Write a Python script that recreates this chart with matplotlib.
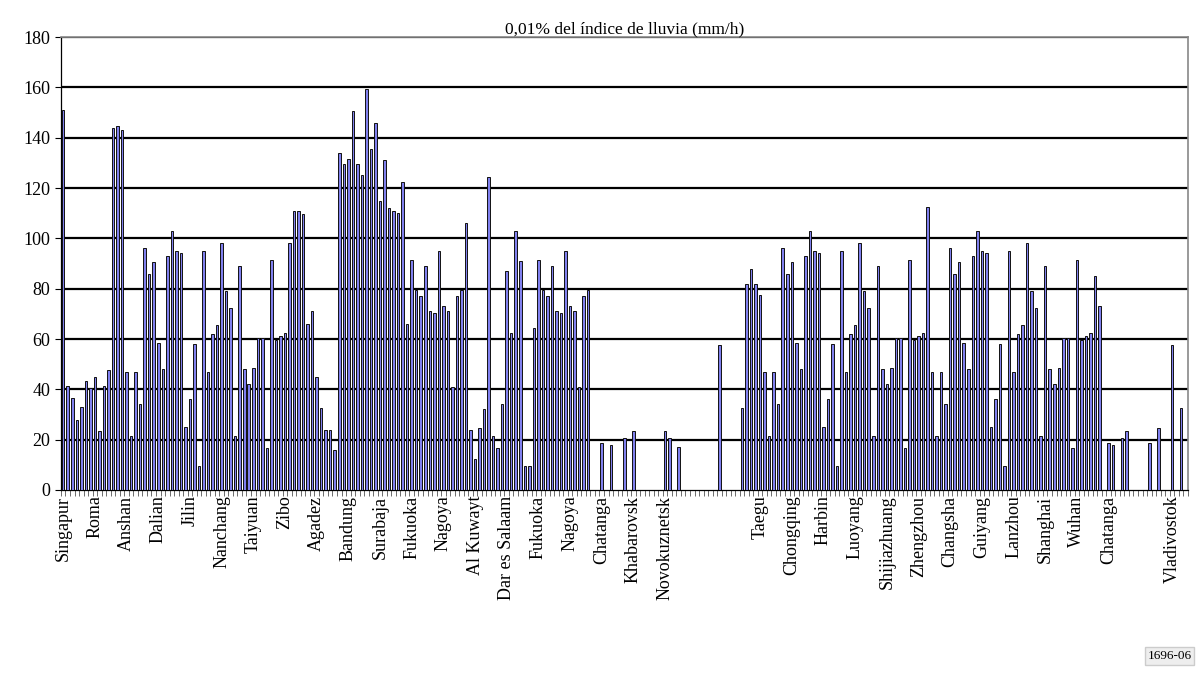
import numpy as np
import matplotlib.pyplot as plt

plt.rcParams['font.family'] = ['Liberation Serif', 'DejaVu Serif']

# 0,01% rain rate per station (mm/h), one value per category
lluvia = [
    151, 41.5, 36.5, 28, 33, 43.5, 40.5, 45, 23.5, 41.5, 47.5, 144, 144.5, 143,
    47, 21.5, 47, 34, 96, 86, 90.5, 58.5, 48, 93, 103, 95, 94, 25, 36, 58, 9.5,
    95, 47, 62, 65.5, 98, 79, 72.5, 21.5, 89, 48, 42, 48.5, 60.5, 60.5, 16.5,
    91.5, 59.5, 61, 62.5, 98, 111, 111, 109.5, 66, 71, 45, 32.5, 24, 24, 16,
    134, 129.5, 131.5, 150.5, 129.5, 125, 159.5, 135.5, 146, 115, 131, 112, 111,
    110, 122.5, 66, 91.5, 79.5, 77, 89, 71, 70.5, 95, 73, 71, 41, 77, 79.5, 106,
    24, 12.5, 24.5, 32, 124.5, 21.5, 16.5, 34, 87, 62.5, 103, 91, 9.5, 9.5,
    64.5, 91.5, 79.5, 77, 89, 71, 70.5, 95, 73, 71, 41, 77, 79.5,
    0, 0, 18.5, 0, 18, 0, 0, 20.5, 0, 23.5, 0, 0, 0, 0, 0, 0, 23.5, 20.5, 0, 17,
    0, 0, 0, 0, 0, 0, 0, 0, 57.5, 0, 0, 0, 0,
    32.5, 82, 88, 82, 77.5, 47, 21.5, 47, 34, 96, 86, 90.5, 58.5, 48, 93, 103,
    95, 94, 25, 36, 58, 9.5, 95, 47, 62, 65.5, 98, 79, 72.5, 21.5, 89, 48, 42,
    48.5, 60.5, 60.5, 16.5, 91.5, 59.5, 61, 62.5, 112.5, 47, 21.5, 47, 34, 96,
    86, 90.5, 58.5, 48, 93, 103, 95, 94, 25, 36, 58, 9.5, 95, 47, 62, 65.5, 98,
    79, 72.5, 21.5, 89, 48, 42, 48.5, 60.5, 60.5, 16.5, 91.5, 59.5, 61, 62.5,
    85, 73, 0, 18.5, 18, 0, 20.5, 23.5, 0, 0, 0, 0, 18.5, 0, 24.5, 0, 0, 57.5,
    0, 32.5, 0,
]

# one label every 7 categories
etiquetas = ["Singapur", "Roma", "Anshan", "Dalian", "Jilin", "Nanchang",
             "Taiyuan", "Zibo", "Agadez", "Bandung", "Surabaja", "Fukuoka",
             "Nagoya", "Al Kuwayt", "Dar es Salaam", "Fukuoka", "Nagoya",
             "Chatanga", "Khabarovsk", "Novokuznetsk", "", "", "Taegu",
             "Chongqing", "Harbin", "Luoyang", "Shijiazhuang", "Zhengzhou",
             "Changsha", "Guiyang", "Lanzhou", "Shanghai", "Wuhan", "Chatanga",
             "", "Vladivostok"]
paso = 7

n = len(lluvia)
x = np.arange(n)

fig = plt.figure(figsize=(12, 6.79), dpi=100)
ax = fig.add_axes([0.0508, 0.2784, 0.939, 0.667])

for y in range(20, 181, 20):
    ax.axhline(y, color='black', lw=1.6, zorder=1)

ax.bar(x, lluvia, width=0.56, color='#8080ee', edgecolor='#111111', lw=0.7, zorder=3)

ax.set_xlim(-0.5, n - 0.5)
ax.set_ylim(0, 180)
ax.set_yticks(range(0, 181, 20))
ax.tick_params(axis='y', labelsize=13, length=4, width=0.8)

ax.set_xticks(np.arange(0, n, paso))
ax.set_xticklabels(etiquetas, rotation=90, fontsize=13)
ax.set_xticks(np.arange(n + 1) - 0.5, minor=True)
ax.tick_params(axis='x', which='major', length=0, pad=4)
ax.tick_params(axis='x', which='minor', length=4, width=0.6, color='#555555')

for s in ['top', 'right']:
    ax.spines[s].set_color('#888888')
    ax.spines[s].set_linewidth(1.2)
ax.spines['left'].set_linewidth(0.9)
ax.spines['bottom'].set_linewidth(0.9)

ax.set_title('0,01% del índice de lluvia (mm/h)', fontsize=12.5, pad=3)

fig.text(0.993, 0.025, '1696-06', ha='right', va='bottom', fontsize=9.5,
         bbox=dict(facecolor='#eeeeee', edgecolor='#cccccc', pad=2))

fig.savefig('out.png', dpi=100)
